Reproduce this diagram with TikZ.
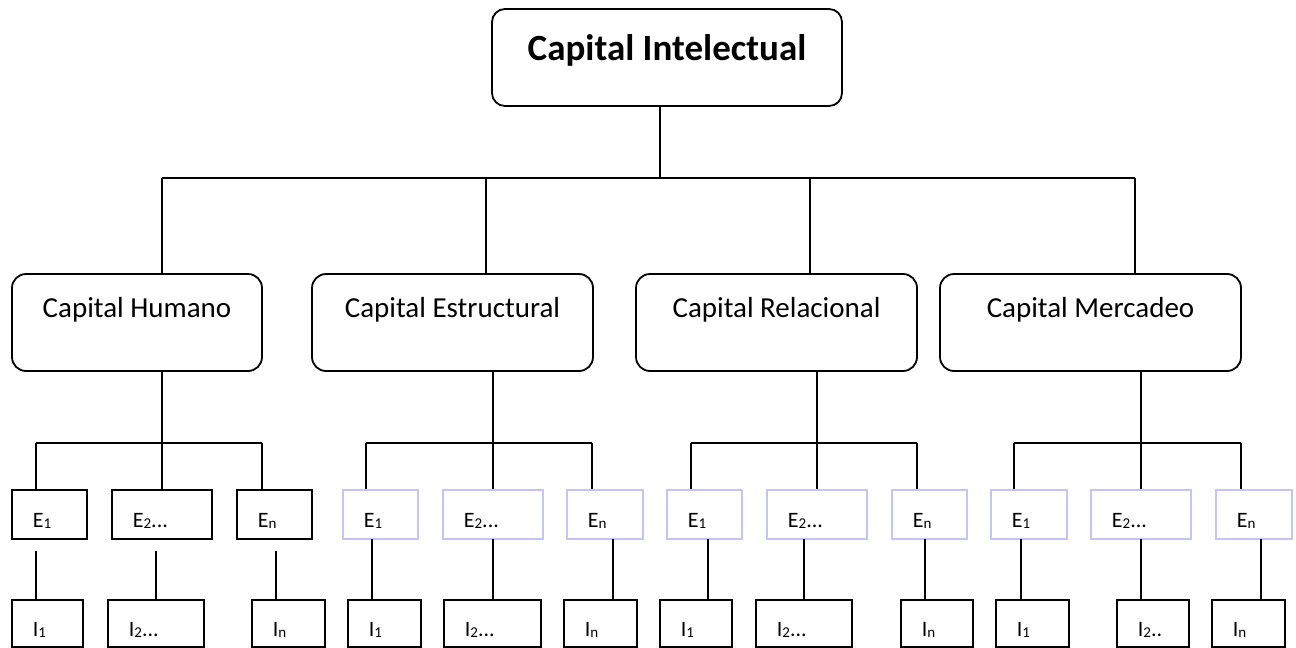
\documentclass[tikz,border=0pt]{standalone}
\usepackage{fontspec}
\setmainfont{Carlito}
\definecolor{lav}{RGB}{196,196,248}
\newcommand{\subs}[1]{\raisebox{-1pt}{\fontsize{15}{16}\selectfont #1}}
\newcommand{\boxat}[7]{% style, name, x1, x2, y1, y2
  \node[#1,minimum width={(#4-#3)*1pt},minimum height={(#6-#5)*1pt}] (#2) at ({(#3+#4)/2},{(#5+#6)/2}) {};}
\begin{document}
\begin{tikzpicture}[x=1pt,y=-1pt,line width=1.8pt,
  topbox/.style={draw=black,rounded corners=13pt,inner sep=0pt},
  midbox/.style={draw=black,rounded corners=14pt,inner sep=0pt},
  sqbox/.style={draw=black,inner sep=0pt},
  lavbox/.style={draw=lav,inner sep=0pt},
  ttl/.style={inner sep=0pt,anchor=base,font=\fontsize{37}{40}\selectfont\bfseries},
  mtxt/.style={inner sep=0pt,anchor=base,font=\fontsize{29}{32}\selectfont},
  stxt/.style={inner sep=0pt,anchor=base west,font=\fontsize{22}{24}\selectfont}]
\useasboundingbox (0,0) rectangle (1296,648);
% top
\boxat{topbox}{ci}{492}{842}{9}{106}{}
\node[ttl] (ciT) at (667,60) {Capital Intelectual};
% second level
\boxat{midbox}{ch}{12}{262}{274}{371}{}
\boxat{midbox}{ce}{312}{593}{274}{371}{}
\boxat{midbox}{cr}{636}{917}{274}{371}{}
\boxat{midbox}{cm}{940}{1241}{274}{371}{}
\node[mtxt] (chT) at (137,317) {Capital Humano};
\node[mtxt] (ceT) at (452.5,317) {Capital Estructural};
\node[mtxt] (crT) at (776.5,317) {Capital Relacional};
\node[mtxt] (cmT) at (1090.5,317) {Capital Mercadeo};
% top bus
\coordinate (j0) at (660,178);
\coordinate (j1) at (162,178);
\coordinate (j2) at (486,178);
\coordinate (j3) at (810,178);
\coordinate (j4) at (1135,178);
\draw (ci.south -| j0) -- (j0);
\draw (j1) -- (j4);
\draw (j1) -- (j1 |- ch.north);
\draw (j2) -- (j2 |- ce.north);
\draw (j3) -- (j3 |- cr.north);
\draw (j4) -- (j4 |- cm.north);
% E boxes
\boxat{sqbox}{h1}{12}{87}{490}{539}{}
\boxat{sqbox}{h2}{112}{212}{490}{539}{}
\boxat{sqbox}{h3}{237}{312}{490}{539}{}
\boxat{lavbox}{s1}{343}{418}{490}{539}{}
\boxat{lavbox}{s2}{443}{543}{490}{539}{}
\boxat{lavbox}{s3}{567}{643}{490}{539}{}
\boxat{lavbox}{r1}{667}{742}{490}{539}{}
\boxat{lavbox}{r2}{767}{867}{490}{539}{}
\boxat{lavbox}{r3}{892}{967}{490}{539}{}
\boxat{lavbox}{m1}{991}{1067}{490}{539}{}
\boxat{lavbox}{m2}{1091}{1191}{490}{539}{}
\boxat{lavbox}{m3}{1216}{1292}{490}{539}{}
% E texts
\foreach \n/\x/\t in {h1/12/{E\subs{1}},h2/112/{E\subs{2}...},h3/237/{E\subs{n}},
  s1/343/{E\subs{1}},s2/443/{E\subs{2}...},s3/567/{E\subs{n}},
  r1/667/{E\subs{1}},r2/767/{E\subs{2}...},r3/892/{E\subs{n}},
  m1/991/{E\subs{1}},m2/1091/{E\subs{2}...},m3/1216/{E\subs{n}}}
  \node[stxt] (\n T) at (\x+20,527) {\t};
% I boxes
\boxat{sqbox}{hi1}{12}{83}{600}{647}{}
\boxat{sqbox}{hi2}{108}{204}{600}{647}{}
\boxat{sqbox}{hi3}{252}{325}{600}{647}{}
\boxat{sqbox}{si1}{348}{421}{600}{647}{}
\boxat{sqbox}{si2}{444}{541}{600}{647}{}
\boxat{sqbox}{si3}{564}{637}{600}{647}{}
\boxat{sqbox}{ri1}{660}{732}{600}{647}{}
\boxat{sqbox}{ri2}{756}{852}{600}{647}{}
\boxat{sqbox}{ri3}{901}{973}{600}{647}{}
\boxat{sqbox}{mi1}{996}{1069}{600}{647}{}
\boxat{sqbox}{mi2}{1117}{1189}{600}{647}{}
\boxat{sqbox}{mi3}{1212}{1285}{600}{647}{}
\foreach \n/\x/\t in {hi1/12/{I\subs{1}},hi2/108/{I\subs{2}...},hi3/252/{I\subs{n}},
  si1/348/{I\subs{1}},si2/444/{I\subs{2}...},si3/564/{I\subs{n}},
  ri1/660/{I\subs{1}},ri2/756/{I\subs{2}...},ri3/901/{I\subs{n}},
  mi1/996/{I\subs{1}},mi2/1117/{I\subs{2}..},mi3/1212/{I\subs{n}}}
  \node[stxt] (\n T) at (\x+20,636) {\t};
% sub-buses
\foreach \p/\a/\b/\c/\d in {ch/h/162/36/262,ce/s/493/366/592,cr/r/817/691/917,cm/m/1141/1014/1241}{
  \coordinate (\a c) at (\b,443);
  \coordinate (\a l) at (\c,443);
  \coordinate (\a r) at (\d,443);
  \draw (\p.south -| \a c) -- (\a c);
  \draw (\a l) -- (\a r);
  \draw (\a l) -- (\a l |- \a 1.north);
  \draw (\a c) -- (\a c |- \a 2.north);
  \draw (\a r) -- (\a r |- \a 3.north);
}
% E to I lines
\coordinate (hx1) at (36,551);
\coordinate (hx2) at (156,551);
\coordinate (hx3) at (276,551);
\draw (hx1) -- (hx1 |- hi1.north);
\draw (hx2) -- (hx2 |- hi2.north);
\draw (hx3) -- (hx3 |- hi3.north);
\foreach \a/\x/\y/\z in {s/372/493/613,r/708/804/925,m/1021/1141/1261}{
  \coordinate (\a x1) at (\x,539);
  \coordinate (\a x2) at (\y,539);
  \coordinate (\a x3) at (\z,539);
  \draw (\a x1) -- (\a x1 |- \a i1.north);
  \draw (\a x2) -- (\a x2 |- \a i2.north);
  \draw (\a x3) -- (\a x3 |- \a i3.north);
}
\end{tikzpicture}
\end{document}
